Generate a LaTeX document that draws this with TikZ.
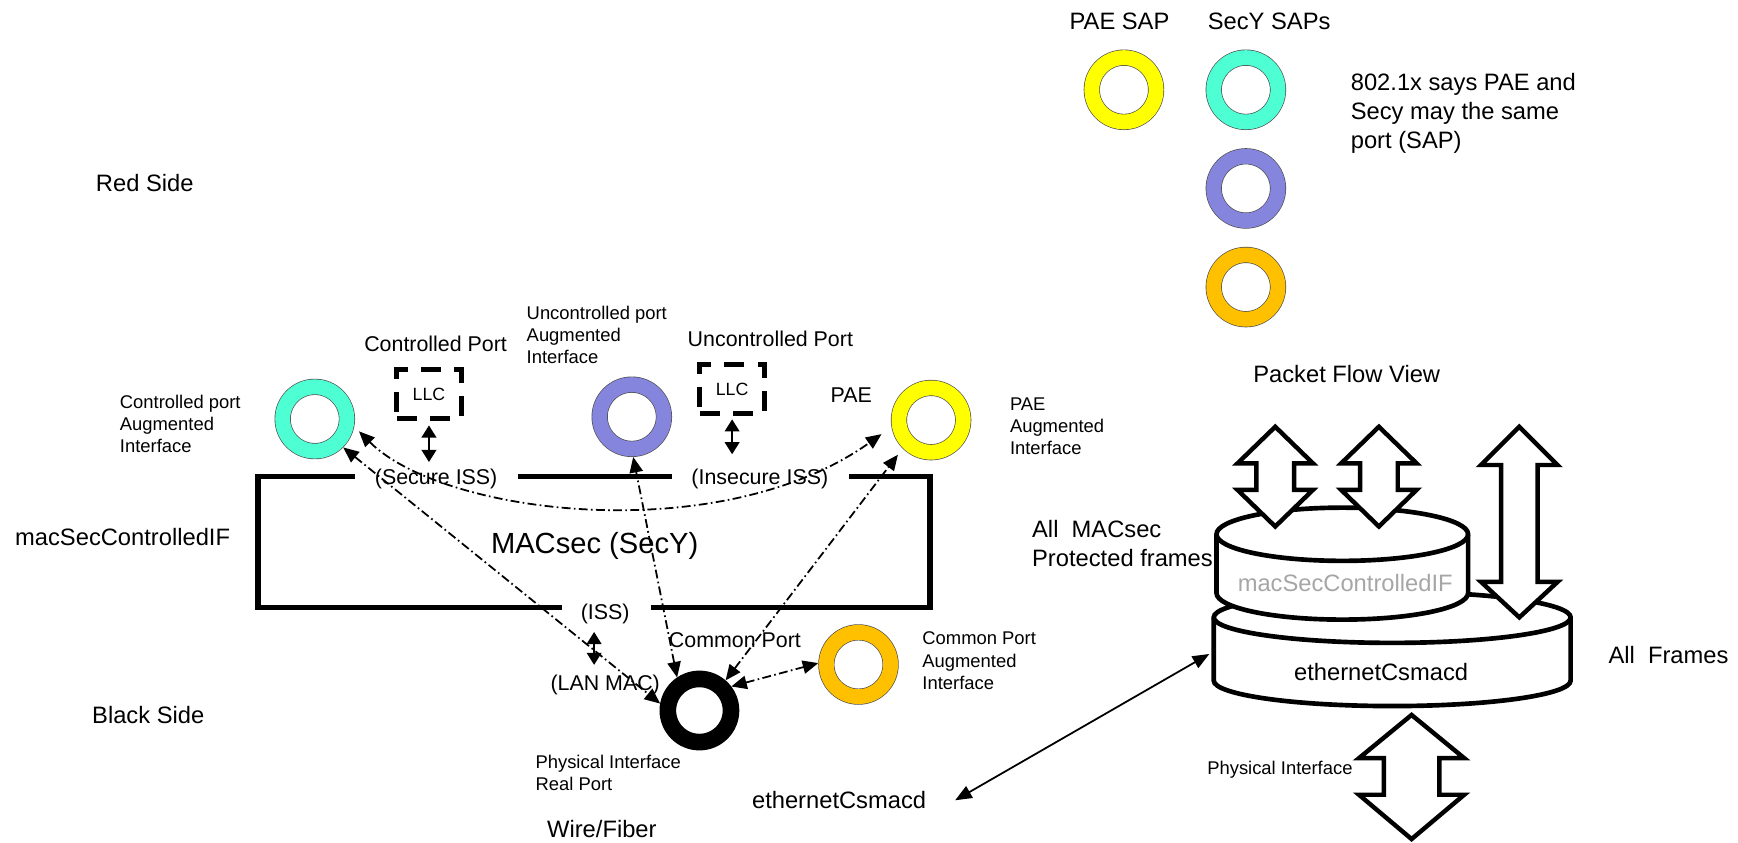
\documentclass[tikz,border=0pt]{standalone}
\usepackage{fontspec}
\setmainfont{Liberation Sans}
\usetikzlibrary{arrows.meta}
\definecolor{ringcyan}{RGB}{77,255,210}
\definecolor{ringpurple}{RGB}{133,133,222}
\definecolor{ringyellow}{RGB}{255,255,0}
\definecolor{ringorange}{RGB}{255,192,0}
\definecolor{graytext}{RGB}{166,166,166}
\newcommand{\blockarrow}[7]{%
  \filldraw[barrow] (#1,#2) -- ({#1+#6},#3) -- ({#1+#7},#3) -- ({#1+#7},#4) -- ({#1+#6},#4) -- (#1,#5)
    -- ({#1-#6},#4) -- ({#1-#7},#4) -- ({#1-#7},#3) -- ({#1-#6},#3) -- cycle;}
\begin{document}
\begin{tikzpicture}[x=1pt,y=-1pt,
  lblL/.style={font=\fontsize{21.4pt}{25.8pt}\selectfont, inner sep=0pt, text height=15.3pt, text depth=0pt},
  lblM/.style={font=\fontsize{19.3pt}{23pt}\selectfont, inner sep=0pt, text height=13.8pt, text depth=0pt},
  lblH/.style={font=\fontsize{26.3pt}{31pt}\selectfont, inner sep=0pt, text height=18.8pt, text depth=0pt},
  lblS/.style={font=\fontsize{16.6pt}{20pt}\selectfont, inner sep=0pt, text height=11.9pt, text depth=0pt},
  multiL/.style={font=\fontsize{21.4pt}{26pt}\selectfont, inner sep=0pt, align=left, anchor=north west},
  multiS/.style={font=\fontsize{16.6pt}{20pt}\selectfont, inner sep=0pt, align=left, anchor=north west},
  ring/.style={circle, inner sep=0pt, minimum size=58pt, draw=black!70, line width=0.6pt,
               double=#1, double distance=13.4pt, outer sep=7.3pt},
  blackring/.style={circle, inner sep=0pt, minimum size=57pt, draw=black, line width=15pt, outer sep=7.5pt},
  llcbox/.style={draw=black, line width=4.5pt, dash pattern=on 18pt off 12pt, minimum width=58pt,
                 minimum height=44pt, inner sep=0pt, font=\fontsize{16pt}{19pt}\selectfont},
  dd/.style={line width=1.6pt, dash pattern=on 8pt off 3pt on 1.5pt off 3pt,
             {Triangle[length=14pt,width=12pt]}-{Triangle[length=14pt,width=12pt]}},
  llcarr/.style={line width=2.4pt, {Triangle[length=11pt,width=13pt]}-{Triangle[length=11pt,width=13pt]}},
  solidarr/.style={line width=1.6pt, {Triangle[length=15pt,width=12pt]}-{Triangle[length=15pt,width=12pt]}},
  boxline/.style={line width=5pt, line join=miter},
  cyl/.style={draw=black, fill=white, line width=4.2pt},
  barrow/.style={draw=black, fill=white, line width=4pt, line join=miter}]
\useasboundingbox (0,0) rectangle (1568,760);

% ---------- top right SAP legend ----------
\node[lblL] (paesapT) at (1010,19) {PAE SAP};
\node[lblL] (secysapT) at (1145,19) {SecY SAPs};
\node[ring=ringyellow] (sapPae) at (1014,81) {};
\node[ring=ringcyan] (sapCyan) at (1124,81) {};
\node[ring=ringpurple] (sapPurple) at (1124,170) {};
\node[ring=ringorange] (sapOrange) at (1124,259) {};
\node[multiL] (note) at (1218.5,66.3) {802.1x says PAE and\\Secy may the same\\port (SAP)};

% ---------- side labels ----------
\node[lblL, anchor=west] (redside) at (86.4,165) {Red Side};
\node[lblL, anchor=west] (ifleft) at (13.5,484.5) {macSecControlledIF};
\node[lblL, anchor=west] (blackside) at (83,645) {Black Side};

% ---------- MACsec box ----------
\draw[boxline] (320,430) -- (233,430) -- (233,548) -- (507,548);
\draw[boxline] (467,430) -- (606,430);
\draw[boxline] (766,430) -- (839,430) -- (839,548) -- (587,548);
\node[lblH] (macsec) at (536.5,490) {MACsec (SecY)};
\node[lblM] (secure) at (393.5,430) {(Secure ISS)};
\node[lblM] (insecure) at (685.5,430) {(Insecure ISS)};
\node[lblM] (iss) at (546,552) {(ISS)};
\node[lblM] (lanmac) at (546,616) {(LAN MAC)};

% ---------- ports ----------
\node[lblM] (ctrlT) at (393,310) {Controlled Port};
\node[llcbox] (llc1) at (387,355.5) {LLC};
\node[lblM] (unctrlT) at (695,306) {Uncontrolled Port};
\node[llcbox] (llc2) at (660.5,351) {LLC};
\node[lblM] (paeT) at (768,356) {PAE};
\node[lblM] (commonT) at (663,577) {Common Port};

\node[multiS] (cpaug) at (108,356) {Controlled port\\Augmented\\Interface};
\node[multiS] (upaug) at (475,276) {Uncontrolled port\\Augmented\\Interface};
\node[multiS] (paeaug) at (911,358.5) {PAE\\Augmented\\Interface};
\node[multiS] (cmaug) at (832,570) {Common Port\\Augmented\\Interface};
\node[multiS] (phyT) at (483,681) {Physical Interface\\Real Port};
\node[lblL] (wire) at (543,748) {Wire/Fiber};

\node[ring=ringcyan] (cpRing) at (284,378) {};
\node[ring=ringpurple] (upRing) at (570,376) {};
\node[ring=ringyellow] (paeRing) at (840,379) {};
\node[ring=ringorange] (cmRing) at (774.5,599.5) {};
\node[blackring] (phyRing) at (631,641) {};

% LLC / ISS arrows
\draw[llcarr, shorten <=4pt, shorten >=6pt] (llc1.south) -- (llc1.south |- secure.north);
\draw[llcarr, shorten <=3pt, shorten >=13pt] (llc2.south) -- (llc2.south |- insecure.north);
\draw[llcarr, shorten <=11pt, shorten >=9pt] ([xshift=-10pt]iss.south) -- ([xshift=-10pt]lanmac.north);

% dash-dot connectors
\draw[dd] (cpRing.-45) -- (phyRing.170);
\draw[dd, shorten <=6pt, shorten >=11pt] (cpRing.-11) .. controls (400,465) and (650,495) .. (paeRing.190);
\draw[dd] (phyRing.124) -- (upRing.-88);
\draw[dd, shorten >=7pt] (phyRing.49) -- (paeRing.-135);
\draw[dd] (phyRing.37) -- (cmRing.178);

% ---------- packet flow view ----------
\node[lblL] (pfv) at (1215,337) {Packet Flow View};
\node[multiL] (allmac) at (931,468.8) {All\ \ MACsec\\[0.5pt]Protected frames};
\node[lblL, anchor=west] (allfr) at (1451,591) {All\ \ Frames};

% lower cylinder
\filldraw[cyl] (1095,557) -- (1095,614) arc[start angle=180,end angle=0,x radius=161,y radius=23]
  -- (1417,557) arc[start angle=0,end angle=-180,x radius=161,y radius=23] -- cycle;
\draw[cyl, fill=none] (1095,557) arc[start angle=180,end angle=0,x radius=161,y radius=23];
% upper cylinder
\filldraw[cyl] (1097.5,482) -- (1097.5,535) arc[start angle=180,end angle=0,x radius=113.5,y radius=24]
  -- (1324.5,482) arc[start angle=0,end angle=-180,x radius=113.5,y radius=24] -- cycle;
\draw[cyl, fill=none] (1097.5,482) arc[start angle=180,end angle=0,x radius=113.5,y radius=24];

\node[lblL, text=graytext] (ifcyl) at (1213.6,526) {macSecControlledIF};
\node[lblL] (ethcyl) at (1246,606) {ethernetCsmacd};

% block arrows
\blockarrow{1150.5}{385}{418}{442}{475}{34}{17}
\blockarrow{1244}{385}{418}{442}{475}{34}{17}
\blockarrow{1370.7}{385}{419.5}{525}{557}{34.5}{16.5}
\blockarrow{1273.5}{645}{684}{717}{757}{47.5}{25}
\node[lblS, anchor=west] (phyif) at (1089,693) {Physical Interface};

% ethernetCsmacd link
\node[lblL] (ethtxt) at (757,722) {ethernetCsmacd};
\coordinate (ethW) at (1091,590);
\draw[solidarr] (ethW) -- ([xshift=26pt]ethtxt.east);
\end{tikzpicture}
\end{document}
